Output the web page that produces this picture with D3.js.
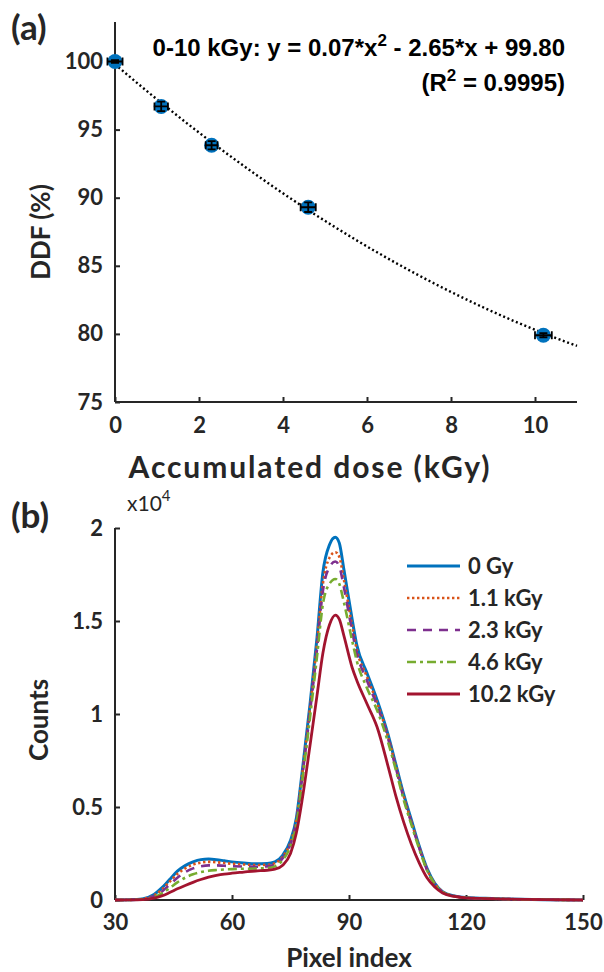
<!DOCTYPE html>
<meta charset="utf-8">
<style>
body { margin: 0; background: #fff; }
text { font-family: Lato, "Open Sans", sans-serif; fill: #262626; }
.axis path, .axis line { stroke: #262626; stroke-width: 2px; }
.axis text { font-size: 22px; font-weight: bold; }
.lbl { font-weight: bold; }
</style>
<svg width="604" height="972" id="chart"></svg>
<script src="https://d3js.org/d3.v7.min.js"></script>
<script>

// panel (a) data
var doses = [0, 1.1, 2.3, 4.6, 10.2],
    ddf = [100, 96.7, 93.85, 89.3, 79.9],
    doseErr = [0.18, 0.16, 0.14, 0.18, 0.2],
    ddfErr = [0.1, 0.35, 0.3, 0.35, 0.15],
    fitCoef = [0.07, -2.65, 99.80];   // y = a*x^2 + b*x + c

// panel (b) data
var pixelIdx = [30, 34, 37, 40, 42, 44, 46, 48, 50, 52, 54, 56, 58, 60, 63, 66, 69, 71, 73, 75, 76.5, 78, 80, 81.8, 83.3, 85, 86.5, 87.5, 88.7, 90.8, 92, 94.6, 97.2, 100, 102, 104, 106, 108, 110, 112, 114, 117, 120, 125, 130, 140, 150];
var counts0 = [0, 10, 60, 300, 650, 1100, 1550, 1850, 2050, 2170, 2200, 2170, 2110, 2050, 1990, 1950, 1960, 2050, 2400, 3200, 4400, 6900, 10500, 14100, 17600, 19100, 19500, 19200, 17750, 15100, 13700, 12200, 10750, 8900, 7300, 5700, 4300, 2900, 1700, 900, 450, 220, 130, 90, 60, 20, 0];
var counts11 = [0, 8, 50, 250, 560, 980, 1400, 1700, 1900, 2010, 2050, 2030, 1990, 1950, 1910, 1880, 1890, 1980, 2330, 3100, 4300, 6750, 10300, 13800, 17000, 18400, 18700, 18450, 17200, 14750, 13450, 12000, 10600, 8800, 7200, 5600, 4200, 2850, 1650, 880, 440, 210, 125, 85, 55, 18, 0];
var counts23 = [0, 6, 40, 200, 450, 820, 1200, 1500, 1700, 1810, 1860, 1860, 1840, 1820, 1800, 1790, 1810, 1900, 2250, 3000, 4200, 6600, 10100, 13500, 16600, 17900, 18200, 17950, 16800, 14450, 13250, 11800, 10450, 8700, 7100, 5500, 4150, 2800, 1620, 870, 430, 210, 120, 80, 55, 18, 0];
var counts46 = [0, 5, 30, 150, 350, 640, 950, 1200, 1380, 1500, 1570, 1610, 1640, 1660, 1680, 1690, 1720, 1810, 2150, 2900, 4050, 6400, 9800, 13100, 15900, 17000, 17260, 17000, 16000, 13950, 12850, 11400, 10200, 8500, 7000, 5400, 4050, 2750, 1600, 860, 420, 200, 120, 80, 50, 16, 0];
var counts102 = [0, 3, 20, 100, 220, 400, 600, 780, 950, 1100, 1230, 1320, 1390, 1440, 1500, 1560, 1600, 1660, 1870, 2500, 3600, 5400, 8300, 11000, 13270, 14800, 15320, 15100, 14200, 12500, 11800, 10550, 9300, 7200, 5600, 4200, 3000, 2000, 1200, 700, 380, 190, 110, 75, 50, 15, 0];
var seriesNames = ["0 Gy", "1.1 kGy", "2.3 kGy", "4.6 kGy", "10.2 kGy"];

var svg = d3.select("svg#chart");

// ---------- panel (a) ----------
var xa = d3.scaleLinear().domain([0, 11]).range([115, 577]),
    ya = d3.scaleLinear().domain([75, 102.9]).range([402, 22]);

var ga = svg.append("g");

ga.append("g")
    .attr("class", "axis")
    .attr("transform", "translate(0,402)")
    .call(d3.axisBottom(xa).tickValues([0, 2, 4, 6, 8, 10]).tickSize(-5).tickSizeOuter(0).tickPadding(15))
    .call(function(g) { g.select(".domain").attr("d", "M115,0H577"); });

ga.append("g")
    .attr("class", "axis")
    .attr("transform", "translate(115,0)")
    .call(d3.axisLeft(ya).tickValues([75, 80, 85, 90, 95, 100]).tickSize(-5).tickSizeOuter(0).tickPadding(12))
    .call(function(g) { g.select(".domain").attr("d", "M0,402V22"); });

var fitX = d3.range(0, 11.001, 0.1);
var fitLine = d3.line()
    .x(function(d) { return xa(d); })
    .y(function(d) { return ya(fitCoef[0] * d * d + fitCoef[1] * d + fitCoef[2]); });

ga.append("path")
    .datum(fitX)
    .attr("d", fitLine)
    .attr("fill", "none")
    .attr("stroke", "#000")
    .attr("stroke-width", 2.4)
    .attr("stroke-dasharray", "2,2.6");

var pts = ga.selectAll(".pt")
    .data(doses.map(function(d, i) { return {x: d, y: ddf[i], ex: doseErr[i], ey: ddfErr[i]}; }))
    .enter().append("g").attr("class", "pt");

pts.append("circle")
    .attr("cx", function(d) { return xa(d.x); })
    .attr("cy", function(d) { return ya(d.y); })
    .attr("r", 7.5)
    .attr("fill", "#0072BD");

pts.append("path")
    .attr("fill", "none")
    .attr("stroke", "#000")
    .attr("stroke-width", 1.8)
    .attr("d", function(d) {
      var cx = xa(d.x), cy = ya(d.y),
          x0 = xa(d.x - d.ex), x1 = xa(d.x + d.ex),
          y0 = ya(d.y - d.ey), y1 = ya(d.y + d.ey);
      return "M" + x0 + "," + cy + "H" + x1 +
             "M" + x0 + "," + (cy - 4) + "V" + (cy + 4) +
             "M" + x1 + "," + (cy - 4) + "V" + (cy + 4) +
             "M" + cx + "," + y0 + "V" + y1 +
             "M" + (cx - 4) + "," + y0 + "H" + (cx + 4) +
             "M" + (cx - 4) + "," + y1 + "H" + (cx + 4);
    });

ga.append("text").attr("class", "lbl").attr("x", 11).attr("y", 40)
    .style("font-size", "35px").text("(a)");

ga.append("text").attr("class", "lbl")
    .attr("transform", "translate(50,232) rotate(-90)")
    .attr("text-anchor", "middle")
    .style("font-size", "26px")
    .text("DDF (%)");

ga.append("text").attr("class", "lbl")
    .attr("x", 310).attr("y", 478)
    .attr("text-anchor", "middle")
    .style("font-size", "30px")
    .style("letter-spacing", "1.9px")
    .text("Accumulated dose (kGy)");

var eq1 = ga.append("text")
    .attr("x", 565).attr("y", 56)
    .attr("text-anchor", "end")
    .style("font-family", "'Liberation Sans', Arial, sans-serif")
    .style("font-weight", "bold").style("font-size", "24px")
    .style("fill", "#000");
eq1.append("tspan").text("0-10 kGy: y = 0.07*x");
eq1.append("tspan").attr("dy", -10).style("font-size", "17px").text("2");
eq1.append("tspan").attr("dy", 10).text(" - 2.65*x + 99.80");

var eq2 = ga.append("text")
    .attr("x", 565).attr("y", 91)
    .attr("text-anchor", "end")
    .style("font-family", "'Liberation Sans', Arial, sans-serif")
    .style("font-weight", "bold").style("font-size", "24px")
    .style("fill", "#000");
eq2.append("tspan").text("(R");
eq2.append("tspan").attr("dy", -10).style("font-size", "17px").text("2");
eq2.append("tspan").attr("dy", 10).text(" = 0.9995)");

// ---------- panel (b) ----------
var xb = d3.scaleLinear().domain([30, 150]).range([115, 583]),
    yb = d3.scaleLinear().domain([0, 20000]).range([900, 528]);

var gb = svg.append("g");

gb.append("g")
    .attr("class", "axis")
    .attr("transform", "translate(0,900)")
    .call(d3.axisBottom(xb).tickValues([30, 60, 90, 120, 150]).tickSize(-5).tickSizeOuter(0).tickPadding(14))
    .call(function(g) { g.select(".domain").attr("d", "M115,0H583"); });

gb.append("g")
    .attr("class", "axis")
    .attr("transform", "translate(115,0)")
    .call(d3.axisLeft(yb).tickValues([0, 5000, 10000, 15000, 20000])
          .tickFormat(function(d) { return d3.format("~g")(d / 10000); })
          .tickSize(-5).tickSizeOuter(0).tickPadding(12))
    .call(function(g) { g.select(".domain").attr("d", "M0,900V528"); });

var allCounts = [counts0, counts11, counts23, counts46, counts102];
var styles = [
  {color: "#0072BD", width: 3, dash: null},
  {color: "#D95319", width: 2.6, dash: "2.4,2.6"},
  {color: "#7E2F8E", width: 2.6, dash: "9,7"},
  {color: "#77AC30", width: 2.6, dash: "9,4,3,4"},
  {color: "#A2142F", width: 2.8, dash: null}
];

var lineB = d3.line()
    .x(function(d, i) { return xb(pixelIdx[i]); })
    .y(function(d) { return yb(d); })
    .curve(d3.curveMonotoneX);

gb.selectAll(".hist")
    .data(allCounts)
    .enter().append("path")
      .attr("class", "hist")
      .attr("d", lineB)
      .attr("fill", "none")
      .attr("stroke", function(d, i) { return styles[i].color; })
      .attr("stroke-width", function(d, i) { return styles[i].width; })
      .attr("stroke-dasharray", function(d, i) { return styles[i].dash; });

var leg = gb.selectAll(".leg")
    .data(seriesNames)
    .enter().append("g")
      .attr("class", "leg")
      .attr("transform", function(d, i) { return "translate(407," + (566 + i * 32) + ")"; });

leg.append("line")
    .attr("x1", 0).attr("x2", 53)
    .attr("stroke", function(d, i) { return styles[i].color; })
    .attr("stroke-width", function(d, i) { return styles[i].width; })
    .attr("stroke-dasharray", function(d, i) { return styles[i].dash; });

leg.append("text")
    .attr("class", "lbl")
    .attr("x", 61).attr("dy", "0.35em")
    .style("font-size", "22px")
    .text(function(d) { return d; });

gb.append("text").attr("class", "lbl").attr("x", 11).attr("y", 528)
    .style("font-size", "35px").text("(b)");

var sci = gb.append("text").attr("x", 127).attr("y", 511).style("font-size", "21px");
sci.append("tspan").text("x10");
sci.append("tspan").attr("dy", -10).style("font-size", "15px").text("4");

gb.append("text").attr("class", "lbl")
    .attr("transform", "translate(48,720) rotate(-90)")
    .attr("text-anchor", "middle")
    .style("font-size", "26px")
    .text("Counts");

gb.append("text").attr("class", "lbl")
    .attr("x", 349).attr("y", 967)
    .attr("text-anchor", "middle")
    .style("font-size", "26px")
    .text("Pixel index");

</script>
